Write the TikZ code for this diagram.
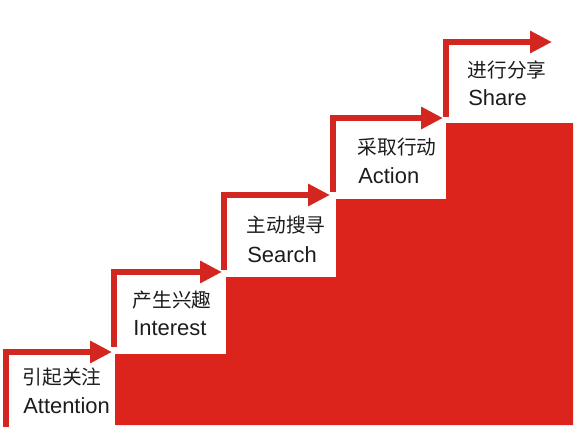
\documentclass[tikz,border=0pt]{standalone}
\usepackage{fontspec}
\setmainfont{Liberation Sans}
\newfontfamily\cjk{Noto Sans CJK SC}
\usetikzlibrary{arrows.meta}
\definecolor{stepred}{RGB}{221,36,28}
\definecolor{arrowred}{RGB}{211,38,32}
\definecolor{textgray}{RGB}{28,28,28}
\begin{document}
\begin{tikzpicture}[
steparrow/.style={draw=arrowred,line width=0.15cm,line join=miter,
-{Triangle[length=0.55cm,width=0.53cm]}},
zhtext/.style={anchor=base west,inner sep=0pt,text=textgray,
font=\cjk\fontsize{14}{16}\selectfont},
entext/.style={anchor=base west,inner sep=0pt,text=textgray,
font=\fontsize{15.6}{18}\selectfont}]
\useasboundingbox (0,0) rectangle (14.525,10.9);
% red staircase
\fill[stepred] (2.875,0.275) -- (2.875,2.05) -- (5.65,2.05) -- (5.65,3.975)
-- (8.4,3.975) -- (8.4,5.925) -- (11.15,5.925) -- (11.15,7.825)
-- (14.325,7.825) -- (14.325,0.275) -- cycle;
% arrows
\coordinate (b1) at (0.14,0.225);\coordinate (c1) at (0.14,2.1);
\coordinate (t1) at (2.8,2.1);
\coordinate (b2) at (2.86,2.225);\coordinate (c2) at (2.86,4.1);
\coordinate (t2) at (5.55,4.1);
\coordinate (b3) at (5.59,4.15);\coordinate (c3) at (5.59,6.025);
\coordinate (t3) at (8.25,6.025);
\coordinate (b4) at (8.32,6.1);\coordinate (c4) at (8.32,7.95);
\coordinate (t4) at (11.075,7.95);
\coordinate (b5) at (11.14,7.975);\coordinate (c5) at (11.14,9.85);
\coordinate (t5) at (13.8,9.85);
\draw[steparrow] (b1)--(c1)--(t1);
\draw[steparrow] (b2)--(c2)--(t2);
\draw[steparrow] (b3)--(c3)--(t3);
\draw[steparrow] (b4)--(c4)--(t4);
\draw[steparrow] (b5)--(c5)--(t5);
% labels
\node[zhtext] (zh1) at (0.56,1.3) {引起关注};
\node[entext] (en1) at (0.575,0.575) {Attention};
\node[zhtext] (zh2) at (3.31,3.225) {产生兴趣};
\node[entext] (en2) at (3.325,2.525) {Interest};
\node[zhtext] (zh3) at (6.16,5.1) {主动搜寻};
\node[entext] (en3) at (6.175,4.35) {Search};
\node[zhtext] (zh4) at (8.935,7.05) {采取行动};
\node[entext] (en4) at (8.95,6.325) {Action};
\node[zhtext] (zh5) at (11.685,8.975) {进行分享};
\node[entext] (en5) at (11.7,8.275) {Share};
\end{tikzpicture}
\end{document}
